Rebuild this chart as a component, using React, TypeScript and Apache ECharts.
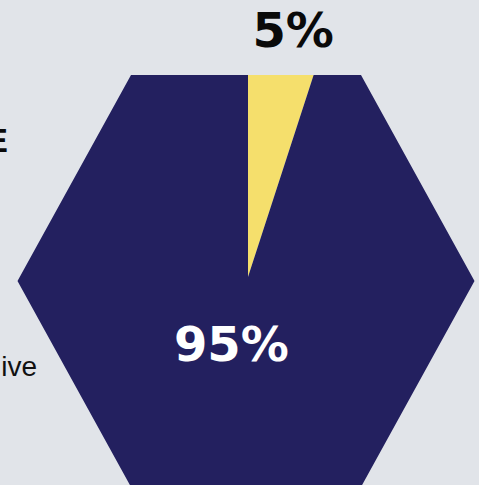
import React, { useEffect, useRef } from "react";
import * as echarts from "echarts";

// ---- data ----
const categories = ["Share A", "Share B"];
const values = [5, 95];
const sliceColors = ["#f5df6c", "#23205f"];
const labelColors = ["#0a0a0a", "#ffffff"];

// ---- layout (pixels) ----
const HEX_CX = 246;
const HEX_CY = 281;
const HEX_HW = 228.5; // half width (side vertices)
const HEX_TOP_HW = 115; // half width of top / bottom edge
const HEX_HH = 206; // half height
const PIE_CX = 248;
const PIE_CY = 277;

const hexVerts: [number, number][] = [
  [HEX_CX - HEX_TOP_HW, HEX_CY - HEX_HH],
  [HEX_CX + HEX_TOP_HW, HEX_CY - HEX_HH],
  [HEX_CX + HEX_HW, HEX_CY],
  [HEX_CX + HEX_TOP_HW, HEX_CY + HEX_HH],
  [HEX_CX - HEX_TOP_HW, HEX_CY + HEX_HH],
  [HEX_CX - HEX_HW, HEX_CY],
];

const TAU = Math.PI * 2;
// angle measured clockwise from 12 o'clock
function dir(a: number): [number, number] {
  return [Math.sin(a), -Math.cos(a)];
}
function angleOf(x: number, y: number): number {
  let a = Math.atan2(x - PIE_CX, -(y - PIE_CY));
  if (a < 0) a += TAU;
  return a;
}
function hit(a: number): [number, number] {
  const [dx, dy] = dir(a);
  let best = Infinity;
  for (let i = 0; i < hexVerts.length; i++) {
    const p1 = hexVerts[i];
    const p2 = hexVerts[(i + 1) % hexVerts.length];
    const ex = p2[0] - p1[0];
    const ey = p2[1] - p1[1];
    const den = dx * ey - dy * ex;
    if (Math.abs(den) < 1e-9) continue;
    const wx = p1[0] - PIE_CX;
    const wy = p1[1] - PIE_CY;
    const t = (wx * ey - wy * ex) / den;
    const s = (wx * dy - wy * dx) / den;
    if (t > 0 && s >= -1e-9 && s <= 1 + 1e-9 && t < best) best = t;
  }
  return [PIE_CX + dx * best, PIE_CY + dy * best];
}

const BOLD_FAMILY = "'Liberation Sans', Arial, sans-serif";
const PCT_FAMILY = "'DejaVu Sans', sans-serif";

export default function App() {
  const ref = useRef<HTMLDivElement>(null);
  useEffect(() => {
    if (!ref.current) return;
    const chart = echarts.init(ref.current, null, { renderer: "svg" });
    const total = values.reduce((a, b) => a + b, 0);
    const starts: number[] = [];
    let acc = 0;
    values.forEach((v) => {
      starts.push(acc);
      acc += (v / total) * TAU;
    });

    chart.setOption({
      animation: false,
      backgroundColor: "#e1e4e9",
      graphic: [
        {
          type: "text",
          x: 8,
          y: 140,
          style: {
            text: "E",
            fontSize: 34,
            fontWeight: "bold",
            fontFamily: BOLD_FAMILY,
            fill: "#0a0a0a",
            align: "right",
            verticalAlign: "middle",
          },
        },
        {
          type: "text",
          x: 37,
          y: 366,
          style: {
            text: "ive",
            fontSize: 28,
            fontFamily: "'Liberation Sans', Arial, sans-serif",
            fill: "#111111",
            align: "right",
            verticalAlign: "middle",
          },
        },
      ],
      series: [
        {
          type: "custom",
          coordinateSystem: "none",
          data: values.map((v, i) => ({ name: categories[i], value: v })),
          renderItem: (params: any, api: any) => {
            const i = params.dataIndex;
            const v = api.value(0) as number;
            const a0 = starts[i];
            const a1 = a0 + (v / total) * TAU;
            const pts: number[][] = [[PIE_CX, PIE_CY], hit(a0)];
            const mids = hexVerts
              .map((p) => ({ p, a: angleOf(p[0], p[1]) }))
              .filter((o) => o.a > a0 && o.a < a1)
              .sort((x, y) => x.a - y.a);
            mids.forEach((o) => pts.push(o.p));
            pts.push(hit(a1));
            const mid = (a0 + a1) / 2;
            const [mx, my] = dir(mid);
            const share = v / total;
            let lx: number;
            let ly: number;
            if (share < 0.15) {
              const h = hit(mid);
              lx = h[0] + mx * 46 + 6;
              ly = h[1] + my * 46;
            } else {
              lx = PIE_CX + mx * 68 - 6;
              ly = PIE_CY + my * 68;
            }
            return {
              type: "group",
              children: [
                {
                  type: "polygon",
                  shape: { points: pts },
                  style: { fill: sliceColors[i], stroke: null },
                },
                {
                  type: "text",
                  x: lx,
                  y: ly,
                  style: {
                    text: Math.round(share * 100) + "%",
                    fontSize: 48,
                    fontWeight: "bold",
                    fontFamily: PCT_FAMILY,
                    fill: labelColors[i],
                    align: "center",
                    verticalAlign: "middle",
                  },
                },
              ],
            };
          },
        },
      ],
    });
    return () => chart.dispose();
  }, []);
  return (
    <div
      ref={ref}
      style={{ position: "fixed", left: 0, top: 0, width: 479, height: 485 }}
    />
  );
}
